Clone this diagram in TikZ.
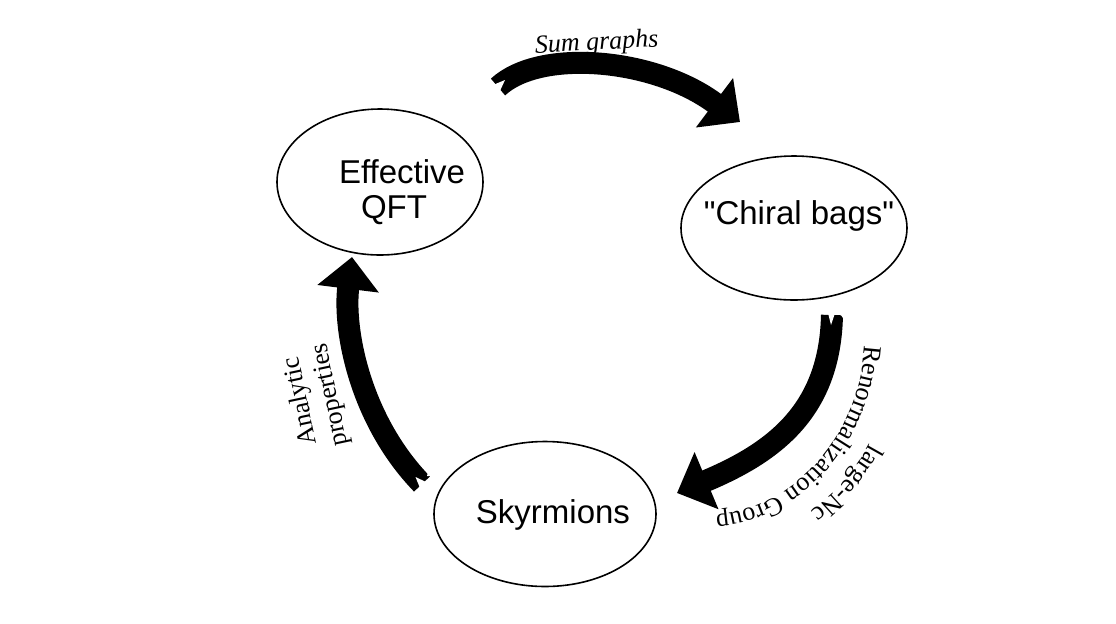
\documentclass[tikz,border=0pt]{standalone}
\usepackage{fontspec}
\setmainfont{Liberation Serif}
\newfontfamily\lsans{Liberation Sans}
\usetikzlibrary{arrows.meta,shapes.geometric,decorations.text}
\begin{document}
\begin{tikzpicture}[x=0.5pt,y=-0.5pt,
  ell/.style={draw, ellipse, line width=0.8pt, inner sep=0pt},
  lab/.style={font=\lsans\fontsize{16.5}{19}\selectfont, inner sep=0pt, anchor=base},
  ser/.style={font=\fontsize{13}{15}\selectfont, inner sep=0pt},
  bigarrow/.style={line width=11pt, -{Triangle[width=30pt,length=16pt]}},
  notch/.style={fill=white, draw=none}]
\useasboundingbox[fill=white] (0,0) rectangle (1116,623);
% ellipses
\node[ell, minimum width=103pt, minimum height=73pt] (qft) at (380,182) {};
\node[ell, minimum width=113pt, minimum height=72pt] (bag) at (794,228) {};
\node[ell, minimum width=111pt, minimum height=72.5pt] (sky) at (545,514) {};
% texts
\node[lab] (qftA) at (402,183) {Effective};
\node[lab] (qftB) at (394,218) {QFT};
\node[lab] (bagT) at (799,224) {"Chiral bags"};
\node[lab] (skyT) at (553,523) {Skyrmions};
% arrows
\coordinate (a1s) at (498,87);
\coordinate (a1e) at (740,122);
\draw[bigarrow] (a1s) .. controls (540,48) and (655,58) .. (a1e);
\coordinate (a2s) at (832,315);
\coordinate (a2e) at (677,493);
\draw[bigarrow] (a2s) .. controls (830,410) and (775,452) .. (a2e);
\coordinate (a3s) at (422,484);
\coordinate (a3e) at (352,257);
\draw[bigarrow] (a3s) .. controls (360,420) and (343,330) .. (a3e);
% torn tails
\fill[notch] (499.5,92) -- (493,85) -- (505,80) -- cycle;
\fill[notch] (491,93) -- (488,89) -- (494,90) -- cycle;
\fill[notch] (828,313) -- (835,313) -- (831,325) -- cycle;
\fill[notch] (839,312) -- (844,312) -- (843,318) -- cycle;
\fill[notch] (426,482) -- (420,488) -- (415.5,477) -- cycle;
\fill[notch] (427,476) -- (431,476) -- (428,472) -- cycle;
% labels
\node[ser, font=\itshape\fontsize{13}{15}\selectfont, anchor=base, rotate=3] (sum) at (597,50) {Sum graphs};
\node[ser, rotate=102, align=center] (ana) at (316,398) {Analytic\\properties};
\coordinate (r1) at (865,335);
\coordinate (r2) at (705,515);
\path[decorate, decoration={text along path, text align=center,
  text={|\fontsize{13}{15}\selectfont|Renormalization Group}}]
  (r1) .. controls (865,434) and (793,515) .. (r2);
\coordinate (n1) at (897,335);
\coordinate (n2) at (705,547);
\path[decorate, decoration={text along path, text align=center,
  text={|\fontsize{13}{15}\selectfont|large-Nc}}]
  (n1) .. controls (897,452) and (811,547) .. (n2);
\end{tikzpicture}
\end{document}
